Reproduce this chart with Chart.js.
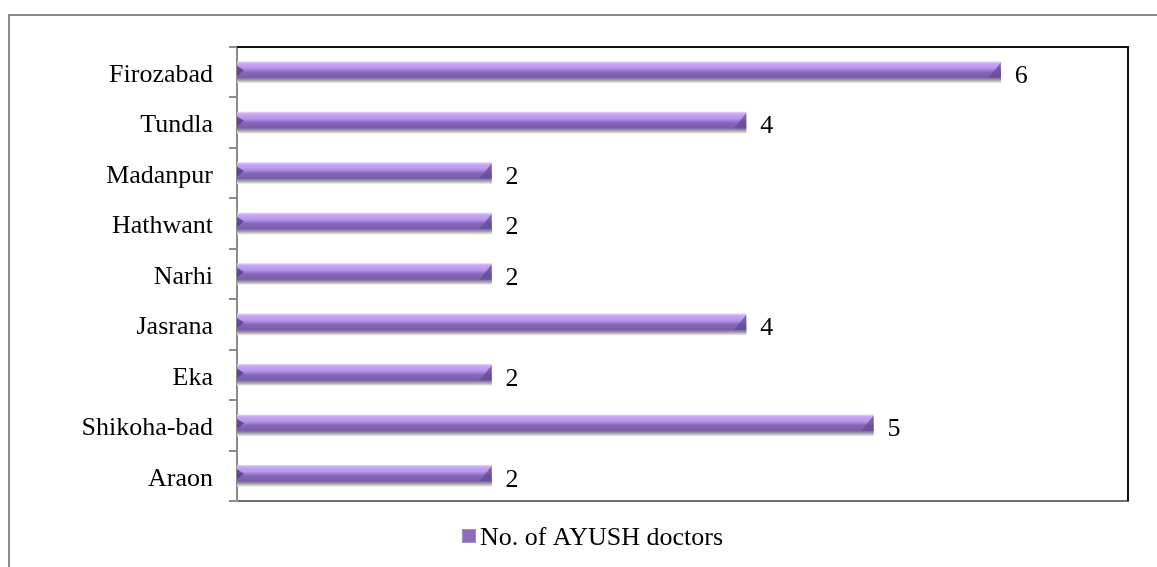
<!DOCTYPE html>
<html>
<head>
<meta charset="utf-8">
<script src="https://cdn.jsdelivr.net/npm/chart.js@4/dist/chart.umd.min.js"></script>
<style>
    html, body { margin: 0; padding: 0; background: #fff; }
    #wrap { position: relative; width: 1157px; height: 567px; overflow: hidden; }
    #frame { position: absolute; left: 8px; top: 14px; width: 1200px; height: 600px;
             border-left: 2px solid #8c8c8c; border-top: 2px solid #8c8c8c; }
    canvas { position: absolute; left: 0; top: 0; }
</style>
</head>
<body>
<div id="wrap">
    <div id="frame"></div>
    <canvas id="ayushChart" width="1157" height="567"></canvas>
</div>
<script>
// data (top to bottom)
const blocks = ['Firozabad', 'Tundla', 'Madanpur', 'Hathwant', 'Narhi', 'Jasrana', 'Eka', 'Shikoha-bad', 'Araon'];
const doctors = [6, 4, 2, 2, 2, 4, 2, 5, 2];
const seriesName = 'No. of AYUSH doctors';

const serif = 'Liberation Serif, Times New Roman, serif';
const BAR_H = 21;

// cylinder-like vertical gradient for each bar
function barFill(ctx) {
    const chart = ctx.chart;
    if (!chart.chartArea || ctx.dataIndex === undefined) return '#8e6cc4';
    const yc = chart.scales.y.getPixelForValue(ctx.dataIndex);
    const top = yc - BAR_H / 2;
    const g = chart.ctx.createLinearGradient(0, top, 0, top + BAR_H);
    g.addColorStop(0.00, '#ddd0ee');
    g.addColorStop(0.10, '#c6a6f3');
    g.addColorStop(0.30, '#b896ec');
    g.addColorStop(0.42, '#9c7cd4');
    g.addColorStop(0.50, '#8466b8');
    g.addColorStop(0.75, '#7a5ea8');
    g.addColorStop(0.88, '#a8a0b0');
    g.addColorStop(1.00, '#e8e8de');
    return g;
}

// black top/right edge of the plot box, bevelled bar ends, value labels, legend
const plotDecor = {
    id: 'plotDecor',
    afterDatasetsDraw(chart) {
        const { ctx, chartArea: a } = chart;
        ctx.save();
        ctx.strokeStyle = '#111';
        ctx.lineWidth = 2;
        ctx.beginPath();
        ctx.moveTo(a.left, a.top);
        ctx.lineTo(a.right, a.top);
        ctx.lineTo(a.right, a.bottom);
        ctx.stroke();

        const meta = chart.getDatasetMeta(0);
        meta.data.forEach((bar, i) => {
            const top = bar.y - BAR_H / 2;
            // left cap
            ctx.fillStyle = 'rgba(90, 64, 140, 0.85)';
            ctx.beginPath();
            ctx.moveTo(bar.base, top + 4);
            ctx.lineTo(bar.base + 7, bar.y - 2);
            ctx.lineTo(bar.base, top + 14);
            ctx.closePath();
            ctx.fill();
            // right bevel
            ctx.fillStyle = 'rgba(100, 74, 150, 0.75)';
            ctx.beginPath();
            ctx.moveTo(bar.x, top + 1);
            ctx.lineTo(bar.x, top + 16);
            ctx.lineTo(bar.x - 12, top + 16);
            ctx.closePath();
            ctx.fill();

            ctx.fillStyle = '#000';
            ctx.font = '26px ' + serif;
            ctx.textAlign = 'left';
            ctx.textBaseline = 'middle';
            ctx.fillText(String(doctors[i]), bar.x + 14, bar.y + 4);
        });

        // legend: small square + series name, centred under the plot
        ctx.font = '26px ' + serif;
        const tw = ctx.measureText(seriesName).width;
        const box = 14, gap = 4;
        const cx = (a.left + a.right) / 2 - 90;
        const ly = a.bottom + 36;
        const x0 = cx - (box + gap + tw) / 2;
        ctx.fillStyle = '#8a6cc0';
        ctx.fillRect(x0, ly - box / 2 - 1, box, box);
        ctx.strokeStyle = '#a592c8';
        ctx.lineWidth = 1;
        ctx.strokeRect(x0 + 0.5, ly - box / 2 - 0.5, box - 1, box - 1);
        ctx.fillStyle = '#000';
        ctx.textAlign = 'left';
        ctx.textBaseline = 'middle';
        ctx.fillText(seriesName, x0 + box + gap, ly + 1);
        ctx.restore();
    }
};

new Chart(document.getElementById('ayushChart').getContext('2d'), {
    type: 'bar',
    data: {
        labels: blocks,
        datasets: [{
            label: seriesName,
            data: doctors,
            backgroundColor: barFill,
            borderWidth: 0,
            barThickness: BAR_H
        }]
    },
    options: {
        indexAxis: 'y',
        responsive: false,
        animation: false,
        devicePixelRatio: 1,
        layout: { padding: { top: 47, right: 29, left: 0, bottom: 62 } },
        plugins: {
            tooltip: { enabled: false },
            legend: { display: false }
        },
        scales: {
            x: {
                min: 0,
                max: 7,
                ticks: { display: false },
                grid: { display: false, drawTicks: false },
                border: { color: '#6e6e6e', width: 2 },
                afterFit: s => { s.height = 4; }
            },
            y: {
                ticks: { color: '#000', font: { family: serif, size: 26 }, padding: 16, labelOffset: 3 },
                grid: { drawOnChartArea: false, tickLength: 8, color: '#8c8c8c', lineWidth: 2 },
                border: { color: '#8c8c8c', width: 2 },
                afterFit: s => { s.width = 237; }
            }
        }
    },
    plugins: [plotDecor]
});
</script>
</body>
</html>
